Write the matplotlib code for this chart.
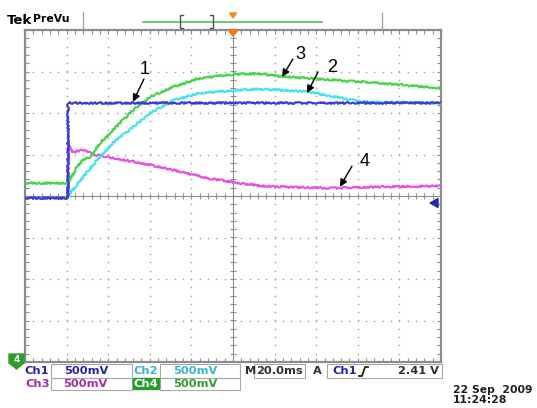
import matplotlib
matplotlib.use("Agg")
import matplotlib.pyplot as plt
import numpy as np
from matplotlib.ticker import MultipleLocator
from matplotlib.patches import Rectangle, Polygon

W, H = 537, 408

# time in ms (20 ms/div, trigger at 0), amplitude in divisions (500 mV/div)
ch1_t = [-100, -79.3, -79.3, 100]
ch1_v = [-0.05, -0.05, 2.25, 2.25]

ch2_t = [-100, -79.3, -78.4, -75, -72, -65.4, -57.7, -48.1, -39.9, -28.8, -15.9, 3.4, 13, 35.6, 62.5, 99.5]
ch2_v = [-0.05, -0.05, 0.07, 0.27, 0.46, 0.87, 1.28, 1.66, 2.0, 2.31, 2.48, 2.55, 2.58, 2.51, 2.27, 2.24]

ch3_t = [-100, -79.3, -75, -72.1, -68.8, -63.9, -57.7, -48.1, -39.9, -28.8, -15.9, 0, 13, 22.6, 46.6, 70.7, 99.5]
ch3_v = [0.31, 0.31, 0.70, 0.87, 0.94, 1.28, 1.59, 2.07, 2.39, 2.63, 2.84, 2.93, 2.95, 2.88, 2.80, 2.72, 2.60]

ch4_t = [-100, -79.3, -79.3, -77, -72, -67, -60.6, -44.7, -28.8, -12.5, 3.4, 13, 22.6, 46.6, 70.7, 99.5]
ch4_v = [-0.05, -0.05, 1.28, 1.06, 1.11, 1.0, 0.94, 0.80, 0.63, 0.43, 0.31, 0.24, 0.22, 0.19, 0.22, 0.24]

# callout labels: (text, text pos, arrow tail, arrow tip)
callouts = [
    ("1", (-42.3, 3.06), (-42.8, 2.82), (-48.1, 2.27)),
    ("3", (32.6, 3.42), (28.8, 3.30), (23.6, 2.87)),
    ("2", (47.8, 3.10), (40.9, 2.99), (35.6, 2.48)),
    ("4", (63.5, 0.84), (57.2, 0.72), (51.4, 0.22)),
]

C_BLUE = "#3c3cd2"
C_CYAN = "#46e2f2"
C_GREEN = "#48d448"
C_MAGENTA = "#e452e4"
GRAY = "#8c8c8c"

fig = plt.figure(figsize=(W / 100, H / 100), dpi=100)
ax = fig.add_axes([25 / W, (H - 362) / H, 416 / W, 332 / H])
ax.set_xlim(-100, 100)
ax.set_ylim(-4, 4)

# graticule: dotted divisions, ticked centre cross, ticked frame
for s in ax.spines.values():
    s.set_color(GRAY)
    s.set_linewidth(1.6)
ax.xaxis.set_major_locator(MultipleLocator(4))
ax.yaxis.set_major_locator(MultipleLocator(0.2))
ax.tick_params(which="both", direction="in", length=3, width=0.8, color=GRAY,
               top=True, right=True, labelbottom=False, labelleft=False)

fine_x = np.arange(-100, 100.1, 4)
fine_y = np.arange(-4, 4.01, 0.2)
for k in range(-4, 5):
    if k == 0:
        continue
    ax.plot(np.full_like(fine_y, 20 * k), fine_y, ls="none", marker="o", ms=1.2,
            mec="none", mfc="#a8a8a8", zorder=1)
for k in range(-3, 4):
    if k == 0:
        continue
    ax.plot(fine_x, np.full_like(fine_x, k), ls="none", marker="o", ms=1.2,
            mec="none", mfc="#a8a8a8", zorder=1)
ax.axhline(0, color=GRAY, lw=0.8, zorder=1)
ax.axvline(0, color=GRAY, lw=0.8, zorder=1)
ax.plot(fine_x, np.zeros_like(fine_x), ls="none", marker="|", ms=5, mew=0.8, color=GRAY, zorder=1)
ax.plot(np.zeros_like(fine_y), fine_y, ls="none", marker="_", ms=5, mew=0.8, color=GRAY, zorder=1)

# traces
for t, v, c in [(ch4_t, ch4_v, C_MAGENTA), (ch3_t, ch3_v, C_GREEN),
                (ch2_t, ch2_v, C_CYAN), (ch1_t, ch1_v, C_BLUE)]:
    line, = ax.plot(t, v, color=c, lw=1.5, zorder=3)
    line.set_sketch_params(scale=0.9, length=3, randomness=3)

for label, txt, tail, tip in callouts:
    ax.annotate("", xy=tip, xytext=tail,
                arrowprops=dict(arrowstyle="-|>", color="black", lw=1.0,
                                mutation_scale=11, shrinkA=0, shrinkB=0), zorder=4)
    ax.text(txt[0], txt[1], label, fontsize=13, family="Liberation Sans",
            ha="center", va="center", zorder=4)

# scope chrome, drawn in pixel coordinates
ov = fig.add_axes([0, 0, 1, 1], zorder=5)
ov.set_xlim(0, W)
ov.set_ylim(H, 0)
ov.axis("off")
ov.patch.set_visible(False)

BOLD = dict(family="DejaVu Sans", fontweight="bold", va="center")
ov.text(7, 20, "Tek", fontsize=9.5, **BOLD)
ov.text(33, 19.5, "PreVu", fontsize=7.8, **BOLD)
ov.plot([83, 83], [12, 28], color="#a8a8a8", lw=1)
ov.plot([382, 382], [13, 28], color="#a8a8a8", lw=1)
ov.plot([143, 322], [21.5, 21.5], color="#62c462", lw=1.3)
ov.plot([183, 180, 180, 183], [15, 15, 28, 28], color="#505050", lw=1)
ov.plot([210, 213, 213, 210], [15, 15, 28, 28], color="#505050", lw=1)
ov.add_patch(Polygon([(229.5, 13), (236.5, 13), (233, 18)], color="#f28a2a"))
ov.add_patch(Polygon([(228, 30), (238, 30), (233, 36)], color="#f07818"))
ov.add_patch(Polygon([(430, 203), (438, 198.5), (438, 207.5)], color="#2828a0"))

# channel 4 ground marker
ov.add_patch(Polygon([(9, 354), (24, 354), (24, 363), (16.5, 369), (9, 363)], color="#2e9e2e"))
ov.text(16.5, 359.5, "4", fontsize=6.5, color="white", ha="center", **BOLD)

# readout boxes
BOX = dict(fill=False, edgecolor="#a8a8a8", lw=0.8)
for x0, x1, y0, y1 in [(51, 132, 364, 378), (160, 240, 364, 378), (254, 305, 364, 378),
                       (327, 442, 364, 378), (51, 132, 378, 390), (160, 240, 378, 390)]:
    ov.add_patch(Rectangle((x0, y0), x1 - x0, y1 - y0, **BOX))
ov.add_patch(Rectangle((133, 378), 26, 11, color="#2a9a2a"))

FS = 8.2
row1, row2 = 371, 384
ov.text(24, row1, "Ch1", fontsize=FS, color="#2424a8", **BOLD)
ov.text(64, row1, "500mV", fontsize=FS, color="#2424a8", **BOLD)
ov.text(133, row1, "Ch2", fontsize=FS, color="#3cb4c8", **BOLD)
ov.text(173, row1, "500mV", fontsize=FS, color="#3cb4c8", **BOLD)
ov.text(245, row1, "M", fontsize=FS, color="#303030", **BOLD)
ov.text(256, row1, "20.0ms", fontsize=FS, color="#303030", **BOLD)
ov.text(313, row1, "A", fontsize=FS, color="#303030", **BOLD)
ov.text(332, row1, "Ch1", fontsize=FS, color="#2424a8", **BOLD)
ov.plot([359, 362, 365, 368], [376, 376, 367, 367], color="#202020", lw=1.3)
ov.text(439, row1, "2.41 V", fontsize=FS, color="#303030", ha="right",
        family="DejaVu Sans", fontweight="bold", va="center")
ov.text(25, row2, "Ch3", fontsize=FS, color="#a82ca8", **BOLD)
ov.text(63, row2, "500mV", fontsize=FS, color="#a82ca8", **BOLD)
ov.text(146, row2, "Ch4", fontsize=FS, color="white", ha="center", **BOLD)
ov.text(173, row2, "500mV", fontsize=FS, color="#2e9e2e", **BOLD)

ov.text(453, 390, "22 Sep  2009", fontsize=7.8, color="#202020", **BOLD)
ov.text(453, 400, "11:24:28", fontsize=7.8, color="#202020", **BOLD)

fig.savefig("out.png", dpi=100)
